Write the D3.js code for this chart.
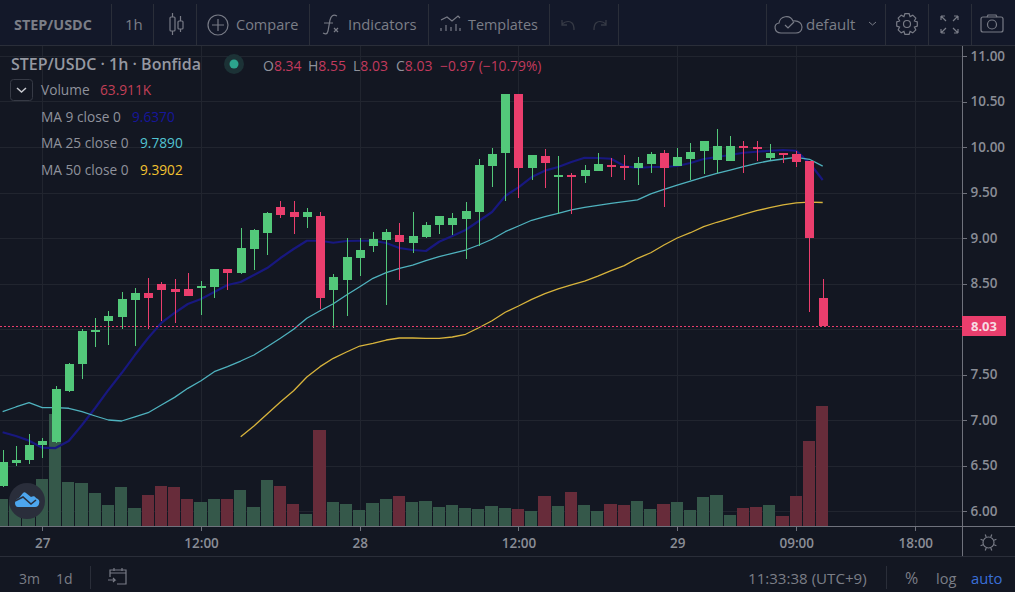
<!DOCTYPE html>
<html>
<head>
<meta charset="utf-8">
<script src="https://cdn.jsdelivr.net/npm/d3@7"></script>
<style>
  html, body { margin: 0; padding: 0; background: #131722; overflow: hidden; }
  svg { display: block; }
  text { font-family: "Open Sans", sans-serif; }
</style>
</head>
<body>
<svg id="chart" width="1015" height="592"></svg>
<script>
// Hourly candles for STEP/USDC; index 0 is 27th 00:00, first candle three hours earlier.
const firstHour = -3;
const opens  = [6.27,6.53,6.56,6.73,6.76,7.32,7.62,7.97,8.09,8.13,8.32,8.40,8.49,8.44,8.44,8.45,8.46,8.66,8.62,8.88,9.05,9.34,9.29,9.23,9.24,8.43,8.54,8.78,8.91,8.98,9.03,8.95,9.01,9.14,9.14,9.21,9.29,9.79,9.93,10.58,9.77,9.90,9.68,9.69,9.68,9.74,9.80,9.79,9.77,9.81,9.93,9.79,9.87,9.96,9.86,9.85,10.01,10.00,9.88,9.93,9.92,9.85,8.34];
const highs  = [6.67,6.71,6.85,6.80,7.37,7.63,8.00,8.12,8.20,8.41,8.45,8.56,8.52,8.55,8.62,8.53,8.66,8.66,9.11,9.10,9.29,9.41,9.41,9.33,9.29,8.60,9.00,9.00,9.07,9.10,9.16,9.29,9.18,9.24,9.27,9.40,9.87,9.99,10.58,10.58,9.91,9.98,9.90,9.71,9.80,9.93,9.88,9.91,9.89,9.95,9.97,9.99,10.04,10.07,10.20,10.12,10.07,10.07,10.03,9.93,9.96,9.85,8.55];
const lows   = [6.26,6.49,6.52,6.58,6.75,7.31,7.45,7.80,7.82,8.00,7.81,8.00,8.09,8.07,8.36,8.15,8.34,8.43,8.60,8.65,8.81,9.22,9.04,9.11,8.22,8.01,8.14,8.58,8.85,8.26,8.54,8.84,9.00,9.04,9.03,8.77,8.91,9.56,9.41,9.44,9.64,9.55,9.26,9.26,9.60,9.74,9.67,9.64,9.58,9.71,9.34,9.79,9.64,9.70,9.71,9.85,9.71,9.85,9.86,9.82,9.78,8.19,8.03];
const closes = [6.54,6.56,6.73,6.77,7.34,7.62,7.98,7.99,8.14,8.33,8.40,8.34,8.43,8.41,8.36,8.47,8.66,8.62,8.89,9.09,9.27,9.25,9.23,9.29,8.34,8.57,8.79,8.87,8.99,9.07,8.96,9.02,9.14,9.24,9.22,9.30,9.80,9.92,10.58,9.77,9.91,9.82,9.69,9.67,9.75,9.81,9.78,9.77,9.82,9.92,9.77,9.89,9.95,10.07,10.01,10.01,9.99,9.98,9.93,9.91,9.84,9.00,8.03];
// Traded volume per candle, thousands.
const volumes = [14.4,13.8,17.0,25.0,59.7,23.4,22.9,17.6,11.2,20.8,9.6,16.5,21.3,20.8,14.4,12.8,14.4,14.4,19.2,10.1,24.5,21.3,11.7,6.4,51.1,12.8,11.7,8.5,12.2,14.4,16.0,12.8,13.3,10.1,11.2,9.6,9.1,10.7,9.6,9.1,8.0,16.0,10.7,18.1,11.2,8.0,11.7,11.2,13.3,9.1,11.7,12.8,8.5,15.4,16.5,5.9,9.6,10.1,11.2,5.3,16.0,45.3,63.911];
// Moving averages of the close, one value per candle.
const ma9  = [6.865,6.824,6.773,6.696,6.692,6.769,6.945,7.132,7.330,7.516,7.714,7.901,8.066,8.176,8.275,8.330,8.407,8.484,8.516,8.593,8.670,8.780,8.879,8.970,8.970,8.948,8.967,8.970,8.970,8.945,8.890,8.868,8.857,8.959,9.022,9.088,9.187,9.286,9.462,9.557,9.670,9.740,9.780,9.835,9.882,9.879,9.871,9.791,9.769,9.780,9.780,9.791,9.824,9.868,9.890,9.912,9.937,9.948,9.959,9.967,9.959,9.824,9.637];
const ma25 = [7.091,7.143,7.190,7.135,7.135,7.129,7.091,7.044,7.000,6.989,7.033,7.080,7.165,7.249,7.348,7.432,7.531,7.586,7.648,7.714,7.805,7.898,7.997,8.118,8.201,8.277,8.374,8.465,8.557,8.619,8.667,8.703,8.751,8.795,8.832,8.868,8.923,8.986,9.069,9.132,9.195,9.234,9.271,9.308,9.337,9.359,9.381,9.399,9.418,9.484,9.535,9.582,9.626,9.670,9.711,9.747,9.784,9.821,9.849,9.868,9.887,9.865,9.789];
// MA 50 starts once its window is full, at hour 15.
const ma50Start = 15;
const ma50 = [6.816,6.934,7.066,7.198,7.322,7.473,7.586,7.678,7.747,7.813,7.841,7.879,7.901,7.901,7.896,7.896,7.912,7.942,8.014,8.091,8.184,8.253,8.326,8.388,8.440,8.484,8.527,8.582,8.641,8.696,8.777,8.838,8.923,9.000,9.058,9.124,9.173,9.216,9.260,9.300,9.333,9.363,9.385,9.395,9.390];
const priceGrid = [6,6.5,7,7.5,8,8.5,9,9.5,10,10.5,11];
// The 8.00 label gives way to the last-price tag, which covers that spot on the scale.
const priceLabels = [6,6.5,7,7.5,8.5,9,9.5,10,10.5,11];
const timeTickHours = [0,12,24,36,48,57,66];
const timeTickLabels = ["27","12:00","28","12:00","29","09:00","18:00"];
const lastPrice = 8.03;

const col = {
  bg: "#131722", grid: "#21252f", axis: "#6f727c", sep: "#2a2e39", text: "#85888f", textDim: "#7b7e87",
  up: "#53c87a", down: "#ea3e6d", volUp: "#35584a", volDown: "#672c3a",
  ma9: "#18187f", ma25: "#4fb2be", ma50: "#d8b43c"
};
const W = 1015, H = 592, axisX = 962, paneTop = 45, paneBottom = 526, footerY = 556;

const x = d3.scaleLinear().domain([0, 66]).range([42.3, 915.3]);
const y = d3.scaleLinear().domain([6, 11]).range([511, 56]);
const yVol = d3.scaleLinear().domain([0, 63.911]).range([paneBottom, 406]);

const svg = d3.select("#chart");
svg.append("rect").attr("width", W).attr("height", H).attr("fill", col.bg);
svg.append("rect").attr("width", W).attr("height", paneTop).attr("fill", "#131829");

// Grid
const gridG = svg.append("g").attr("shape-rendering", "crispEdges");
gridG.selectAll(".h").data(priceGrid).join("line")
  .attr("x1", 0).attr("x2", axisX).attr("y1", d => Math.round(y(d)) + .5).attr("y2", d => Math.round(y(d)) + .5)
  .attr("stroke", col.grid);
gridG.selectAll(".v").data(timeTickHours).join("line")
  .attr("y1", paneTop).attr("y2", paneBottom).attr("x1", d => Math.round(x(d)) + .5).attr("x2", d => Math.round(x(d)) + .5)
  .attr("stroke", col.grid);

const candles = opens.map((o, i) => ({
  hour: firstHour + i, o, h: highs[i], l: lows[i], c: closes[i], v: volumes[i], up: closes[i] >= o
}));

// Volume histogram
svg.append("g").attr("shape-rendering", "crispEdges").selectAll("rect").data(candles).join("rect")
  .attr("x", d => Math.max(0, Math.round(x(d.hour - .5))))
  .attr("width", d => Math.round(x(d.hour + .5)) - Math.max(0, Math.round(x(d.hour - .5))) - 1)
  .attr("y", d => Math.round(yVol(d.v)))
  .attr("height", d => paneBottom - Math.round(yVol(d.v)))
  .attr("fill", d => d.up ? col.volUp : col.volDown);

// Moving averages sit under the candles
const lineFor = (start) => d3.line().x((d, i) => x(start + i)).y(d => y(d));
const maG = svg.append("g").attr("fill", "none").attr("stroke-linejoin", "round");
maG.append("path").attr("d", lineFor(ma50Start)(ma50)).attr("stroke", col.ma50).attr("stroke-width", 1.3);
maG.append("path").attr("d", lineFor(firstHour)(ma9)).attr("stroke", col.ma9).attr("stroke-width", 2.2);
maG.append("path").attr("d", lineFor(firstHour)(ma25)).attr("stroke", col.ma25).attr("stroke-width", 1.3);

// Candles
const cG = svg.append("g").attr("shape-rendering", "crispEdges");
const candle = cG.selectAll("g").data(candles).join("g").attr("fill", d => d.up ? col.up : col.down);
candle.append("rect")
  .attr("x", d => Math.round(x(d.hour))).attr("width", 1)
  .attr("y", d => Math.round(y(d.h))).attr("height", d => Math.max(1, Math.round(y(d.l)) - Math.round(y(d.h))));
candle.append("rect")
  .attr("x", d => Math.round(x(d.hour)) - 4).attr("width", 9)
  .attr("y", d => Math.round(y(Math.max(d.o, d.c))))
  .attr("height", d => Math.max(2, Math.round(y(Math.min(d.o, d.c))) - Math.round(y(Math.max(d.o, d.c)))));

// Last price line
svg.append("line").attr("x1", 0).attr("x2", axisX)
  .attr("y1", Math.round(y(lastPrice)) + .5).attr("y2", Math.round(y(lastPrice)) + .5)
  .attr("stroke", col.down).attr("stroke-dasharray", "2 2").attr("shape-rendering", "crispEdges");

// Price axis
const yAxis = d3.axisRight(y).tickValues(priceLabels).tickFormat(d3.format(".2f")).tickSize(4).tickPadding(4);
const yG = svg.append("g").attr("transform", `translate(${axisX + .5},0)`).call(yAxis);
yG.select(".domain").remove();
yG.selectAll("line").attr("stroke", col.axis).attr("shape-rendering", "crispEdges");
yG.selectAll("text").attr("fill", "#8a8d96").attr("font-size", 13.5).attr("font-weight", 600)
  .style("font-family", '"Open Sans", sans-serif');

// Time axis
const xAxis = d3.axisBottom(x).tickValues(timeTickHours)
  .tickFormat(d => timeTickLabels[timeTickHours.indexOf(d)]).tickSize(4).tickPadding(8);
const xG = svg.append("g").attr("transform", `translate(0,${paneBottom + .5})`).call(xAxis);
xG.select(".domain").remove();
xG.selectAll("line").attr("stroke", col.axis).attr("shape-rendering", "crispEdges");
xG.selectAll("text").attr("fill", "#8a8d96").attr("font-size", 13.5).attr("font-weight", 600)
  .style("font-family", '"Open Sans", sans-serif');

// Frame lines
const frame = svg.append("g").attr("shape-rendering", "crispEdges");
frame.append("line").attr("x1", 0).attr("x2", W).attr("y1", paneBottom + .5).attr("y2", paneBottom + .5).attr("stroke", col.axis);
frame.append("line").attr("x1", axisX + .5).attr("x2", axisX + .5).attr("y1", paneTop).attr("y2", footerY).attr("stroke", col.axis);
frame.append("line").attr("x1", 0).attr("x2", W).attr("y1", footerY + .5).attr("y2", footerY + .5).attr("stroke", col.sep);
frame.append("line").attr("x1", 0).attr("x2", W).attr("y1", paneTop + .5).attr("y2", paneTop + .5).attr("stroke", col.sep);

// Price tag for the last close
svg.append("rect").attr("x", axisX).attr("y", Math.round(y(lastPrice)) - 10).attr("width", 44).attr("height", 20).attr("fill", col.down);
svg.append("text").attr("x", axisX + 22).attr("y", Math.round(y(lastPrice)) + 5).attr("text-anchor", "middle")
  .attr("fill", "#f7dbe3").attr("font-size", 13).attr("font-weight", 700).text(d3.format(".2f")(lastPrice));

// Toolbar
const label = (sel, t, px, py, size, fill, extra = {}) => {
  const el = sel.append("text").attr("x", px).attr("y", py).attr("font-size", size).attr("fill", fill).text(t);
  Object.entries(extra).forEach(([k, v]) => el.attr(k, v));
  return el;
};
const tb = svg.append("g");
[111, 153, 196, 309, 428, 549, 618, 766, 885, 928, 971].forEach(sx =>
  tb.append("line").attr("x1", sx + .5).attr("x2", sx + .5).attr("y1", 4).attr("y2", paneTop)
    .attr("stroke", col.sep).attr("shape-rendering", "crispEdges"));
label(tb, "STEP/USDC", 14, 30, 14.4, col.textDim, { "font-weight": 700 });
label(tb, "1h", 125, 30, 15, col.textDim);
label(tb, "Compare", 236, 30, 14.5, col.textDim);
label(tb, "Indicators", 348, 30, 14.8, col.textDim);
label(tb, "Templates", 468, 30, 14.4, col.textDim);
label(tb, "default", 806, 30, 15, col.textDim);

const ico = tb.append("g").attr("fill", "none").attr("stroke", "#787b86").attr("stroke-width", 1.2);
// candle-style icon
ico.append("rect").attr("x", 170).attr("y", 17).attr("width", 5).attr("height", 14).attr("rx", 1);
ico.append("path").attr("d", "M172.5 13v4M172.5 31v4M180.5 16v5M180.5 29v3");
ico.append("rect").attr("x", 178).attr("y", 21).attr("width", 5).attr("height", 8).attr("rx", 1);
// compare
ico.append("circle").attr("cx", 218).attr("cy", 25).attr("r", 10);
ico.append("path").attr("d", "M218 19v12M212 25h12");
// fx
ico.append("path").attr("d", "M337 16c-4 -2 -6 0 -7 4l-2 11c-1 4 -3 3 -5 2M324 23h9M334 28l4 4M338 28l-4 4");
// templates
ico.append("path").attr("d", "M441 20l6 -3l5 4l6 -5l2 2M441 31v-3M446 31v-6M451 31v-4M456 31v-7M460 31v-3");
// undo, redo
const faint = tb.append("g").attr("fill", "none").attr("stroke", "#363a45").attr("stroke-width", 1.3);
faint.append("path").attr("d", "M562 24c4 -3 8 -3 10 -1c2 2 2 5 2 7M562 20v5h5");
faint.append("path").attr("d", "M606 24c-4 -3 -8 -3 -10 -1c-2 2 -2 5 -2 7M606 20v5h-5");
// cloud check
ico.append("path").attr("d", "M781 33c-7 0 -8 -9 -2 -10c1 -7 11 -9 14 -2c6 -1 9 3 9 6c0 4 -3 6 -6 6zM785 25l3 3l6 -6");
ico.append("path").attr("d", "M869 22l3.500 3l3.500 -3").attr("stroke-width", 1);
// gear
ico.append("circle").attr("cx", 907).attr("cy", 24).attr("r", 3.500);
ico.append("path").attr("d", d3.range(0, 8).map(k => {
  const a = k * Math.PI / 4, b = a + Math.PI / 8;
  const p = (r, t) => `${(907 + r * Math.cos(t)).toFixed(1)} ${(24 + r * Math.sin(t)).toFixed(1)}`;
  return `${k ? "L" : "M"}${p(10.500, a - .2)}L${p(10.500, a + .2)}L${p(8, b)}`;
}).join("") + "Z");
// fullscreen
ico.append("path").attr("d", "M941 16h4M941 16v4M941 16l5 5M958 16h-4M958 16v4M958 16l-5 5M941 33h4M941 33v-4M941 33l5 -5M958 33h-4M958 33v-4M958 33l-5 -5");
// camera
ico.append("rect").attr("x", 981).attr("y", 17).attr("width", 22).attr("height", 15).attr("rx", 2);
ico.append("circle").attr("cx", 992).attr("cy", 24.500).attr("r", 4.500);
ico.append("path").attr("d", "M987 17l1 -2h8l1 2");

// Legend block
const lg = svg.append("g");
const legendTitle = label(lg, "", 11, 70, 16, "#9598a1", { "font-weight": 600 });
legendTitle.text("STEP/USDC · 1h · Bonfida");
lg.append("circle").attr("cx", 234).attr("cy", 64).attr("r", 10).attr("fill", "#1c3236");
lg.append("circle").attr("cx", 234).attr("cy", 64).attr("r", 4.500).attr("fill", "#2ca58d");

const ohlcLabels = ["O", "H", "L", "C"];
const ohlcValues = [8.34, 8.55, 8.03, 8.03];
const ohlcX = [263, 308, 353, 396];
ohlcLabels.forEach((t, i) => {
  const el = label(lg, t, ohlcX[i], 71, 14, "#8f929c");
  el.append("tspan").attr("fill", "#c13a5d").text(ohlcValues[i].toFixed(2));
});
label(lg, "−0.97 (−10.79%)", 440, 71, 13.8, "#c13a5d");

lg.append("rect").attr("x", 10.500).attr("y", 79.500).attr("width", 22).attr("height", 21).attr("rx", 3)
  .attr("fill", "none").attr("stroke", "#363a45");
lg.append("path").attr("d", "M17 88l4.500 4l4.500 -4").attr("fill", "none").attr("stroke", "#c8cad0").attr("stroke-width", 1.5);
const rows = [
  ["Volume", "63.911K", 41, 95, 100, "#c23f57"],
  ["MA 9 close 0", "9.6370", 41, 122, 132, "#16169a"],
  ["MA 25 close 0", "9.7890", 41, 148, 140, "#52c4d2"],
  ["MA 50 close 0", "9.3902", 41, 175, 140, "#f2c230"]
];
rows.forEach(r => {
  label(lg, r[0], r[2], r[3], 13.7, "#8f929c");
  label(lg, r[1], r[4], r[3], 13.7, r[5]);
});

// Footer
const ft = svg.append("g");
label(ft, "3m", 19, 584, 14, col.textDim);
label(ft, "1d", 56, 584, 14, col.textDim);
ft.append("line").attr("x1", 90.500).attr("x2", 90.500).attr("y1", 566).attr("y2", 589).attr("stroke", col.sep);
ft.append("line").attr("x1", 886.500).attr("x2", 886.500).attr("y1", 566).attr("y2", 589).attr("stroke", col.sep);
const cal = ft.append("g").attr("fill", "none").attr("stroke", "#787b86").attr("stroke-width", 1.2);
cal.append("path").attr("d", "M110 577v-7h16v14h-9M110 573h16M114 568v3M122 568v3M108 580h7l-2 -2M115 580l-2 2");
label(ft, "11:33:38 (UTC+9)", 748, 584, 15.1, col.textDim);
label(ft, "%", 905, 584, 16, col.textDim);
label(ft, "log", 936, 584, 14.5, col.textDim);
label(ft, "auto", 971, 584, 14.8, "#3a6fd8");

// Axis settings sun
const sun = svg.append("g").attr("fill", "none").attr("stroke", "#787b86").attr("stroke-width", 1.2);
sun.append("circle").attr("cx", 988.500).attr("cy", 542.500).attr("r", 5.500);
sun.append("path").attr("d", d3.range(0, 8).map(k => {
  const a = k * Math.PI / 4 + Math.PI / 8;
  return `M${(988.5 + 6 * Math.cos(a)).toFixed(1)} ${(542.5 + 6 * Math.sin(a)).toFixed(1)}L${(988.5 + 8.5 * Math.cos(a)).toFixed(1)} ${(542.5 + 8.5 * Math.sin(a)).toFixed(1)}`;
}).join(""));

// Source badge over the first volume bars
svg.append("circle").attr("cx", 27).attr("cy", 501).attr("r", 18).attr("fill", "#2a2e3b");
svg.append("path").attr("d", "M15 503c0 -3 2 -4 4 -5l4 -5c1 -1 2 -1 3 0l5 4c2 -1 4 -1 5 1c3 1 4 3 3 6c-1 3 -3 3 -5 3h-16c-2 0 -3 -2 -3 -4z")
  .attr("fill", "#4da6ee");
svg.append("path").attr("d", "M15 501l8 -4l8 7l5 -4").attr("fill", "none").attr("stroke", "#2a2e3b").attr("stroke-width", 1.6);
</script>
</body>
</html>
